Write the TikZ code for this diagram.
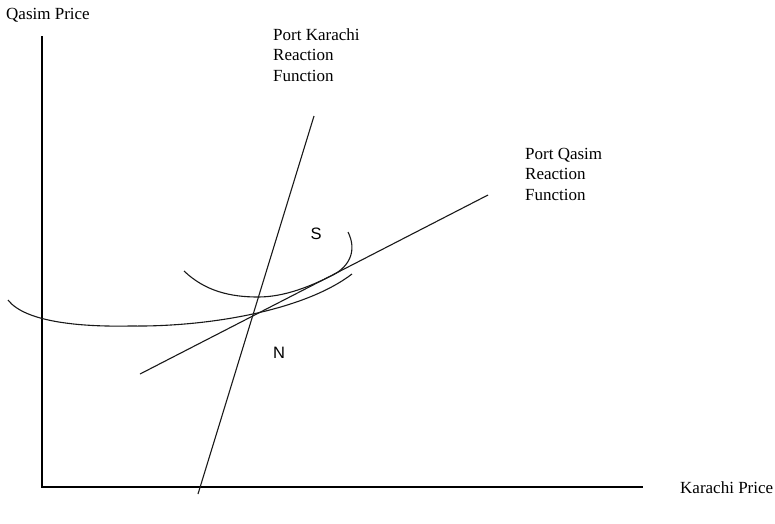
\documentclass[tikz,border=0pt]{standalone}
\usepackage{fontspec}
\setmainfont{Liberation Serif}
\newfontfamily\labelsans{Liberation Sans}
\begin{document}
\begin{tikzpicture}[
  x=1pt,y=-1pt,
  axisline/.style={draw=black, line width=1.2pt},
  reactline/.style={draw=black!90, line width=1.1pt},
  isoprofit/.style={draw=black!90, line width=1.1pt},
  axislabel/.style={font=\fontsize{17}{20}\selectfont, inner sep=0pt},
  funclabel/.style={font=\fontsize{17}{20.5}\selectfont, align=left, anchor=north west, inner sep=0pt},
  pointlabel/.style={font=\labelsans\fontsize{16.5}{20}\selectfont, inner sep=0pt}
]
\path[use as bounding box] (0,0) rectangle (775,523);

% Axes
\coordinate (origin) at (42,487);
\coordinate (ytop) at (42,36);
\coordinate (xend) at (643,487);
\draw[axisline] (ytop) -- (origin) -- (xend);
\node[axislabel, anchor=west] (qprice) at (6,15) {Qasim Price};
\node[axislabel, anchor=west] (kprice) at (680,488) {Karachi Price};

% Reaction functions
\coordinate (karlow) at (198,494);
\coordinate (karhigh) at (314,116);
\coordinate (qaslow) at (140,374);
\coordinate (qashigh) at (488,195);
\draw[reactline] (karlow) -- (karhigh);
\draw[reactline] (qaslow) -- (qashigh);
\node[funclabel] (karlab) at (273,28) {Port Karachi\\Reaction\\Function};
\node[funclabel] (qaslab) at (525,148) {Port Qasim\\Reaction\\Function};

% Isoprofit curves
\draw[isoprofit] (184,271) .. controls (205,291) and (230,297) .. (258,297)
  .. controls (285,297) and (311,286) .. (333,275)
  .. controls (350,266) and (357,250) .. (348,232);
\draw[isoprofit] (8,300) .. controls (25,322) and (80,327) .. (130,326)
  .. controls (210,327) and (305,310) .. (352,274);

% Equilibrium labels
\node[pointlabel] (spoint) at (316,234) {S};
\node[pointlabel] (npoint) at (279,353) {N};
\end{tikzpicture}
\end{document}
